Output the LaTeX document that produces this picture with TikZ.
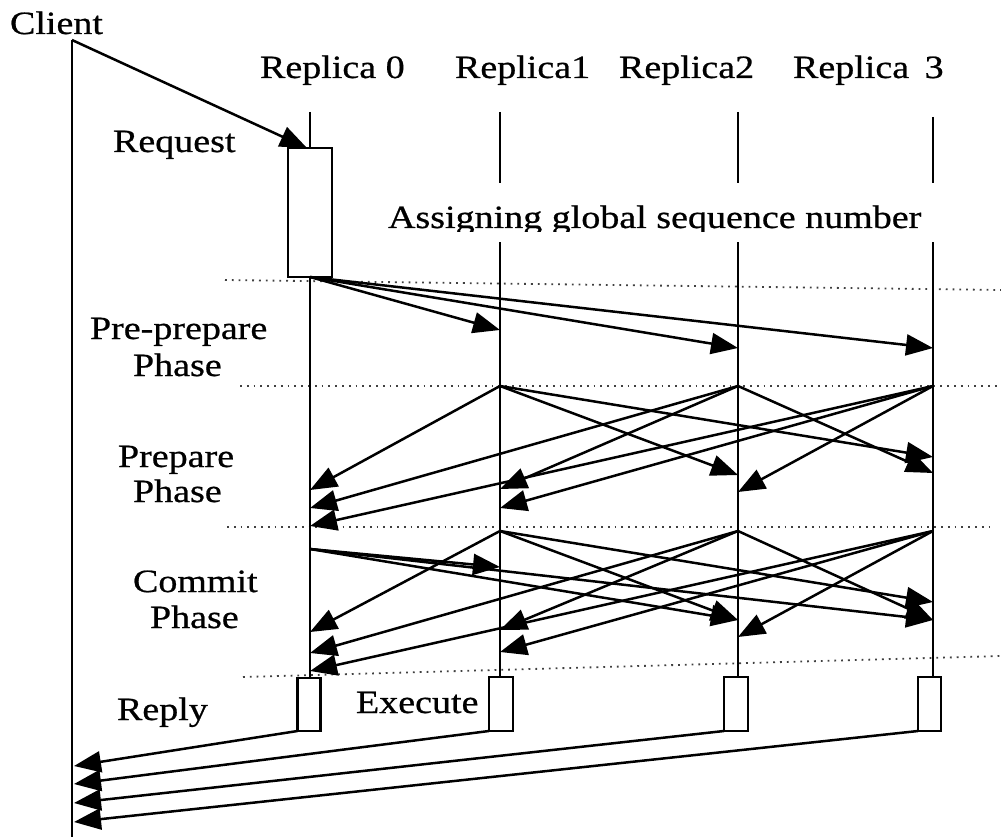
\documentclass[tikz,border=0pt]{standalone}
\usepackage{fontspec}
\setmainfont{Liberation Serif}[FakeStretch=1.17,FakeBold=0.7]
\usetikzlibrary{arrows.meta}
\begin{document}
\begin{tikzpicture}[x=1pt,y=-1pt,
  lbl/.style={font=\fontsize{32.5}{36}\selectfont, inner sep=0pt, outer sep=0pt, anchor=base west},
  life/.style={line width=2.5pt},
  dots/.style={line width=1.8pt, black!75, dash pattern=on 1.8pt off 5pt},
  msg/.style={line width=2.5pt, -{Triangle[length=27pt,width=21pt]}},
  bx/.style={draw, line width=2.5pt, inner sep=0pt, outer sep=0pt}]
\useasboundingbox (0,0) rectangle (1001,837);

% ---- labels
\node[lbl] (client) at (10,34) {Client};
\node[lbl] (rep0) at (260,78) {Replica 0};
\node[lbl] (rep1) at (455,78) {Replica1};
\node[lbl] (rep2) at (619,78) {Replica2};
\node[lbl] (rep3) at (793,78) {Replica\hspace{6pt} 3};
\node[lbl] (request) at (113,152) {Request};
\node[lbl] (pp1) at (90,339) {Pre-prepare};
\node[lbl] (pp2) at (133,376) {Phase};
\node[lbl] (pr1) at (118,467) {Prepare};
\node[lbl] (pr2) at (133,502) {Phase};
\node[lbl] (cm1) at (133,592) {Commit};
\node[lbl] (cm2) at (150,628) {Phase};
\node[lbl] (reply) at (117,720) {Reply};
\node[lbl] (execute) at (356,713) {Execute};
\begin{scope}
  \clip (380,180) rectangle (950,231);
  \node[lbl] (assign) at (388,228) {Assigning global sequence number};
\end{scope}

% ---- dotted phase separators
\coordinate (d1a) at (225,280); \coordinate (d1b) at (1001,290);
\coordinate (d2a) at (240,386); \coordinate (d2b) at (1001,386);
\coordinate (d3a) at (227,527); \coordinate (d3b) at (995,527);
\coordinate (d4a) at (243,677); \coordinate (d4b) at (1001,656);
\draw[dots] (d1a) -- (d1b);
\draw[dots] (d2a) -- (d2b);
\draw[dots] (d3a) -- (d3b);
\draw[dots] (d4a) -- (d4b);

% ---- boxes
\node[bx, minimum width=44pt, minimum height=129pt] (req) at (310,212.5) {};
\node[bx, minimum width=23pt, minimum height=53pt] (e0) at (309,704.5) {};
\node[bx, minimum width=24pt, minimum height=54pt] (e1) at (501,704) {};
\node[bx, minimum width=24pt, minimum height=54pt] (e2) at (736,704) {};
\node[bx, minimum width=23pt, minimum height=54pt] (e3) at (929.5,704) {};

% ---- life lines
\coordinate (cl0) at (72,40); \coordinate (cl1) at (72,837);
\draw[life] (cl0) -- (cl1);
\coordinate (r0t) at (310,112);
\coordinate (r1t) at (500,112); \coordinate (r1a) at (500,183); \coordinate (r1b) at (500,242);
\coordinate (r2t) at (738,112); \coordinate (r2a) at (738,183); \coordinate (r2b) at (738,242);
\coordinate (r3t) at (933,117); \coordinate (r3a) at (933,183); \coordinate (r3b) at (933,242);
\draw[life] (r0t) -- (req.north);
\draw[life] (req.south) -- (req.south |- e0.north);
\draw[life] (r1t) -- (r1a);
\draw[life] (r1b) -- (r1b |- e1.north);
\draw[life] (r2t) -- (r2a);
\draw[life] (r2b) -- (r2b |- e2.north);
\draw[life] (r3t) -- (r3a);
\draw[life] (r3b) -- (r3b |- e3.north);

% ---- request
\coordinate (reqtip) at (307,148);
\draw[msg] (cl0) -- (reqtip);

% ---- pre-prepare
\coordinate (t1) at (500,330); \coordinate (t2) at (738,348); \coordinate (t3) at (933,348);
\draw[msg] (req.south) -- (t1);
\draw[msg] (req.south) -- (t2);
\draw[msg] (req.south) -- (t3);

% ---- prepare
\coordinate (s1) at (500,386); \coordinate (s2) at (738,386); \coordinate (s3) at (933,386);
\coordinate (p0a) at (310,490); \coordinate (p0b) at (310,508); \coordinate (p0c) at (310,526);
\coordinate (p1a) at (500,489); \coordinate (p1b) at (500,508);
\coordinate (p2a) at (738,475); \coordinate (p2b) at (738,492);
\coordinate (p3a) at (933,457); \coordinate (p3b) at (933,473);
\draw[msg] (s1) -- (p0a);
\draw[msg] (s1) -- (p2a);
\draw[msg] (s1) -- (p3a);
\draw[msg] (s2) -- (p0b);
\draw[msg] (s2) -- (p1a);
\draw[msg] (s2) -- (p3b);
\draw[msg] (s3) -- (p0c);
\draw[msg] (s3) -- (p1b);
\draw[msg] (s3) -- (p2b);

% ---- commit
\coordinate (c0) at (310,549); \coordinate (c1) at (500,531);
\coordinate (c2) at (738,531); \coordinate (c3) at (933,531);
\coordinate (m0a) at (310,632); \coordinate (m0b) at (310,653); \coordinate (m0c) at (310,671);
\coordinate (m1a) at (500,567); \coordinate (m1b) at (500,630); \coordinate (m1c) at (500,652);
\coordinate (m2a) at (738,620); \coordinate (m2b) at (738,637);
\coordinate (m3a) at (933,602); \coordinate (m3b) at (933,620);
\draw[msg] (c0) -- (m1a);
\draw[msg] (c0) -- (m2a);
\draw[msg] (c0) -- (m3b);
\draw[msg] (c1) -- (m0a);
\draw[msg] (c1) -- (m2a);
\draw[msg] (c1) -- (m3a);
\draw[msg] (c2) -- (m0b);
\draw[msg] (c2) -- (m1b);
\draw[msg] (c2) -- (m3b);
\draw[msg] (c3) -- (m0c);
\draw[msg] (c3) -- (m1c);
\draw[msg] (c3) -- (m2b);

% ---- reply
\coordinate (y0) at (74,766); \coordinate (y1) at (74,784);
\coordinate (y2) at (74,803); \coordinate (y3) at (74,822);
\draw[msg] (e0.south west) -- (y0);
\draw[msg] (e1.south west) -- (y1);
\draw[msg] (e2.south west) -- (y2);
\draw[msg] (e3.south west) -- (y3);
\end{tikzpicture}
\end{document}
